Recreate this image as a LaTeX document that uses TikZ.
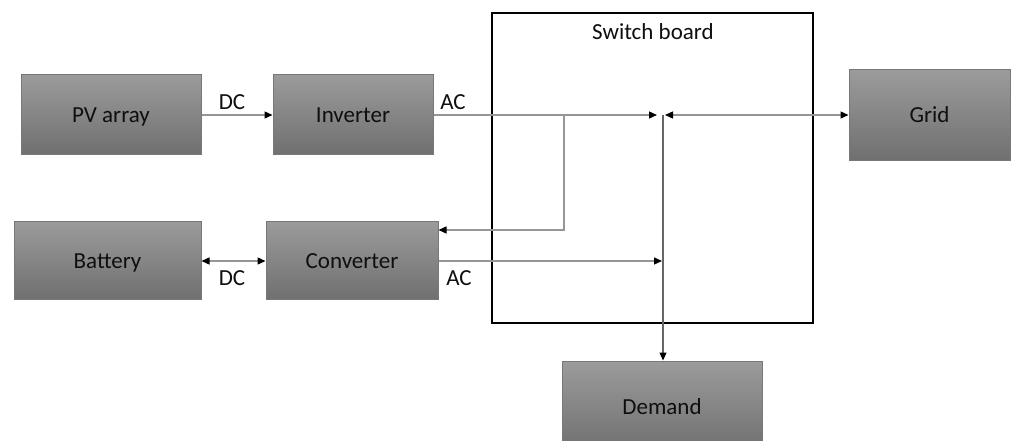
\documentclass[tikz,border=0pt]{standalone}
\usepackage{fontspec}
\setmainfont{Carlito}
\usetikzlibrary{arrows.meta}
\definecolor{boxtop}{RGB}{155,155,155}
\definecolor{boxbot}{RGB}{112,112,112}
\definecolor{boxedge}{RGB}{120,120,120}
\definecolor{linegray}{RGB}{150,150,150}
\definecolor{txt}{RGB}{15,15,15}
\begin{document}
\begin{tikzpicture}[x=1pt,y=-1pt,
  blk/.style={draw=boxedge,line width=1pt,top color=boxtop,bottom color=boxbot,font=\fontsize{23}{27}\selectfont,text=txt,text height=16pt,text depth=0pt},
  wire/.style={draw=linegray,line width=1.3pt},
  lbl/.style={font=\fontsize{23}{27}\selectfont,inner sep=0pt,anchor=base,text=txt}]
\useasboundingbox (0,0) rectangle (1011,441);
\tikzset{>={Triangle[length=8pt,width=7pt,fill=black,color=black]}}
% boxes
\node[blk,minimum width=180pt,minimum height=79pt] (pv) at (111,114.5) {PV array};
\node[blk,minimum width=160pt,minimum height=79pt] (inv) at (353,114.5) {Inverter};
\node[blk,minimum width=187pt,minimum height=78pt] (bat) at (107.5,260) {Battery};
\node[blk,minimum width=172pt,minimum height=78pt] (conv) at (352,260) {Converter};
\node[blk,minimum width=161pt,minimum height=90pt] (grid) at (929.5,115) {Grid};
\node[blk,minimum width=200pt,minimum height=90pt] (dem) at (662,406) {Demand};
\node[draw=black,line width=1.5pt,minimum width=321pt,minimum height=310pt] (sb) at (652.5,168) {};
\node[lbl] (sbl) at (653,40) {Switch board};
% junction
\coordinate (J) at (663,115);
\coordinate (Jl) at (657,115);
\coordinate (Jr) at (665,115);
\coordinate (B) at (564,115);
% connectors
\draw[wire,->] (pv.east |- 0,115) -- (inv.west |- 0,115);
\draw[wire,<->] (bat.east |- 0,261) -- (conv.west |- 0,261);
\draw[wire,->] (inv.east |- 0,115) -- (Jl);
\draw[wire,<->] (Jr) -- (grid.west |- 0,115);
\draw[wire,->] (B) -- (564,230) -- (conv.east |- 0,230);
\draw[wire,->] (conv.east |- 0,261) -- (662,261);
\draw[draw=black!60,line width=1.1pt,->] (J) -- (dem.north -| J);
% labels
\node[lbl] (dc1) at (232,110) {DC};
\node[lbl] (ac1) at (453,110) {AC};
\node[lbl] (dc2) at (232,285) {DC};
\node[lbl] (ac2) at (459,285) {AC};
\end{tikzpicture}
\end{document}
